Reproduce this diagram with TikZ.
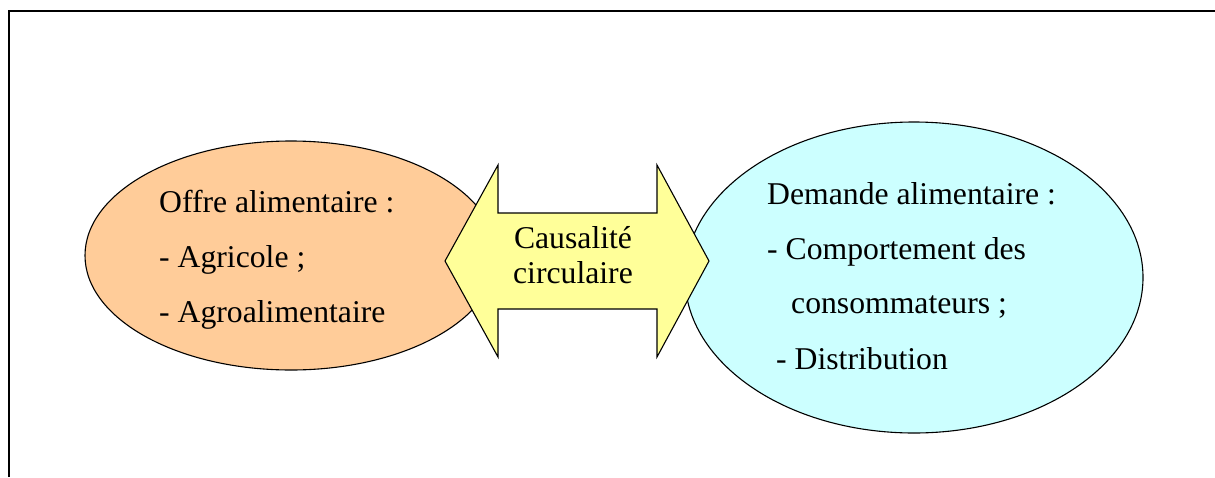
\documentclass[tikz,border=0pt]{standalone}
\usepackage{fontspec}
\setmainfont{Liberation Serif}
\usetikzlibrary{shapes.geometric}
\definecolor{offrefill}{HTML}{FFCC99}
\definecolor{demandefill}{HTML}{CCFFFF}
\definecolor{arrowfill}{HTML}{FFFF99}
\begin{document}
\begin{tikzpicture}[x=1pt,y=-1pt,
  bubble/.style={ellipse,draw=black,line width=1.1pt,inner sep=0pt},
  txt/.style={anchor=base west,inner sep=0pt,font=\fontsize{31.7}{36}\selectfont},
  ctxt/.style={anchor=base,inner sep=0pt,font=\fontsize{31.7}{36}\selectfont},
  frameline/.style={line width=2.4pt,line join=miter}]
\useasboundingbox (0,0) rectangle (1215,477);
% frame
\coordinate (fb) at (9,477);
\coordinate (fc) at (9,11);
\coordinate (fr) at (1215,11);
\draw[frameline] (fb) -- (fc) -- (fr);
% ellipses
\node[bubble,fill=offrefill,minimum width=412pt,minimum height=229pt] (offre) at (291,255.5) {};
\node[bubble,fill=demandefill,minimum width=458pt,minimum height=311pt] (demande) at (914,277.5) {};
% double arrow
\draw[line width=1.1pt,fill=arrowfill,line join=miter]
  (445,261) -- (498,165) -- (498,213) -- (657,213) -- (657,165) -- (709,261)
  -- (657,357) -- (657,309) -- (498,309) -- (498,357) -- cycle;
% texts
\node[txt] (o1) at (159,212) {Offre alimentaire :};
\node[txt] (o2) at (159,267) {- Agricole ;};
\node[txt] (o3) at (159,322) {- Agroalimentaire};
\node[txt] (d1) at (767,204) {Demande alimentaire :};
\node[txt] (d2) at (767,259) {- Comportement des};
\node[txt] (d3) at (791,313) {consommateurs ;};
\node[txt] (d4) at (776,369) {- Distribution};
\node[ctxt] (c1) at (573,248) {Causalité};
\node[ctxt] (c2) at (573,283) {circulaire};
\end{tikzpicture}
\end{document}
